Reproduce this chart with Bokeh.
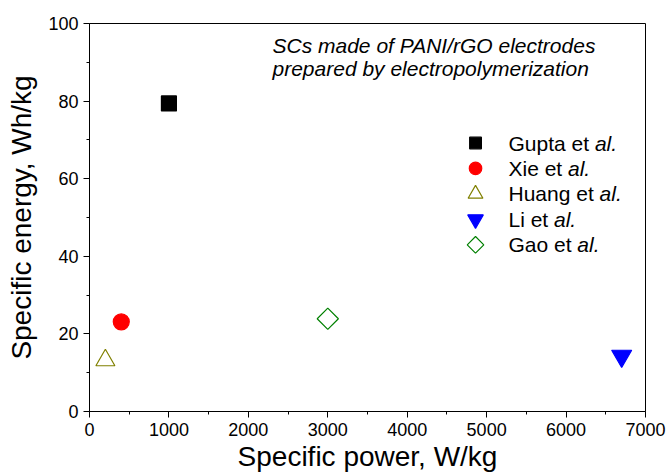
import math
from bokeh.plotting import figure
from bokeh.models import Label, Range1d, FixedTicker
from bokeh.embed import file_html
from bokeh.resources import INLINE

# ---- data ----
authors = ["Gupta", "Xie", "Huang", "Li", "Gao"]
power = [1000, 400, 200, 6700, 3000]          # W/kg
energy = [79.4, 23.1, 13.2, 14.3, 23.9]       # Wh/kg
markers = ["square", "circle", "triangle", "inverted_triangle", "square"]
angles = [0, 0, 0, 0, math.pi / 4]
colors = ["#000000", "#ff0000", "#808000", "#0000ff", "#008000"]
filled = [True, True, False, True, False]
sizes = [15, 16, 19, 20, 15]

x_ticks = [0, 1000, 2000, 3000, 4000, 5000, 6000, 7000]
y_ticks = [0, 20, 40, 60, 80, 100]
note_lines = ["SCs made of PANI/rGO electrodes", "prepared by electropolymerization"]

FONT = "Liberation Sans"
# Arial/Liberation Sans advance widths (per 1000 em)
W = {"G": 778, "u": 556, "p": 556, "t": 278, "a": 556, " ": 278, "e": 556,
     "X": 667, "i": 222, "H": 722, "n": 556, "g": 556, "L": 556, "o": 556}

def text_width(s, size):
    return sum(W.get(c, 556) for c in s) / 1000.0 * size

p = figure(width=667, height=474, output_backend="svg", toolbar_location=None,
           x_range=Range1d(0, 7000), y_range=Range1d(0, 100),
           min_border_left=89, min_border_right=22, min_border_top=23,
           min_border_bottom=62)
p.xgrid.visible = False
p.ygrid.visible = False
p.outline_line_color = "black"
p.outline_line_width = 1
p.background_fill_color = "white"
p.border_fill_color = "white"

for ax in (p.xaxis[0], p.yaxis[0]):
    ax.axis_line_color = "black"
    ax.major_tick_line_color = "black"
    ax.minor_tick_line_color = "black"
    ax.major_tick_in = 0
    ax.major_tick_out = 6
    ax.minor_tick_in = 0
    ax.minor_tick_out = 3
    ax.major_label_text_font = FONT
    ax.major_label_text_font_size = "18px"
    ax.major_label_text_color = "black"
    ax.axis_label_text_font = FONT
    ax.axis_label_text_font_size = "28px"
    ax.axis_label_text_font_style = "normal"
    ax.axis_label_text_color = "black"

p.xaxis[0].ticker = FixedTicker(ticks=x_ticks, minor_ticks=[v + 500 for v in x_ticks[:-1]])
p.yaxis[0].ticker = FixedTicker(ticks=y_ticks, minor_ticks=[v + 10 for v in y_ticks[:-1]])
p.xaxis.axis_label = "Specific power, W/kg"
p.yaxis.axis_label = "Specific energy, Wh/kg"
p.xaxis.major_label_standoff = 5
p.yaxis.major_label_standoff = 5
p.xaxis.axis_label_standoff = 2
p.yaxis.axis_label_standoff = 8

def marker_kw(i, scale=1.0):
    return dict(marker=markers[i], size=sizes[i] * scale, angle=angles[i],
                line_color=colors[i], line_width=1.2,
                fill_color=colors[i] if filled[i] else None)

# data points
for i in range(len(authors)):
    p.scatter([power[i]], [energy[i]], **marker_kw(i))

# legend (manual, for mixed italic labels)
leg_marker_x = 4860
leg_text_x = 5275
leg_top = 69.2
leg_step = 6.56
fs = 21
for i, a in enumerate(authors):
    yy = leg_top - i * leg_step
    p.scatter([leg_marker_x], [yy], **marker_kw(i, 0.78))
    normal = a + " et "
    p.add_layout(Label(x=leg_text_x, y=yy, text=normal, text_font=FONT,
                       text_font_size=f"{fs}px", text_baseline="middle",
                       text_color="black"))
    p.add_layout(Label(x=leg_text_x, y=yy, x_offset=text_width(normal, fs), text="al.",
                       text_font=FONT, text_font_size=f"{fs}px", text_font_style="italic",
                       text_baseline="middle", text_color="black"))

# annotation
note_x = 2304
note_y = [94.3, 88.4]
for t, yy in zip(note_lines, note_y):
    p.add_layout(Label(x=note_x, y=yy, text=t, text_font=FONT, text_font_size="21px",
                       text_font_style="italic", text_baseline="alphabetic",
                       text_color="black"))

open("out.html", "w").write(file_html(p, INLINE))
